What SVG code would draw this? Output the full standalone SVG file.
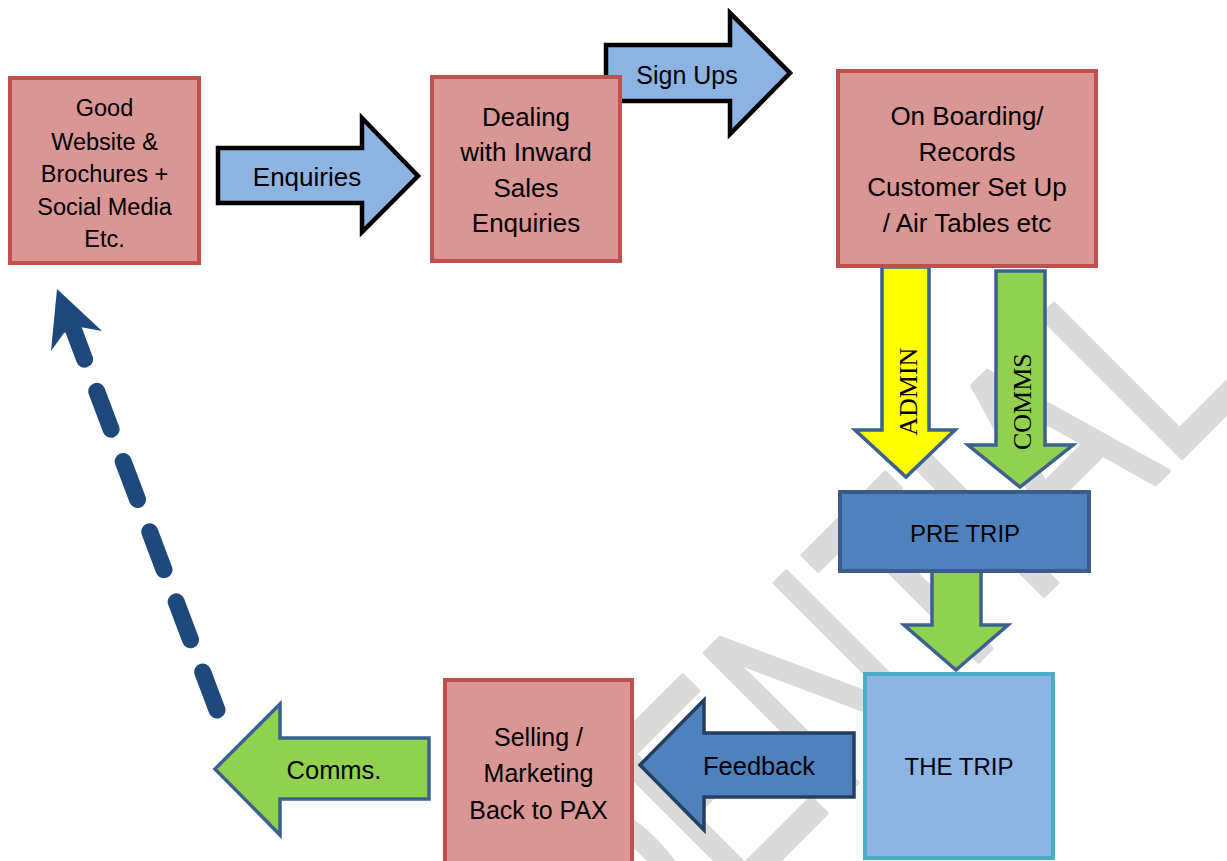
<svg xmlns="http://www.w3.org/2000/svg" width="1227" height="861" viewBox="0 0 1227 861">
<style>
  .t { font-family: "Liberation Sans", Arial, sans-serif; fill: #000; text-anchor: middle; }
  .ts { font-family: "Liberation Serif", "Times New Roman", serif; fill: #000; text-anchor: middle; font-size: 26px; }
  .red { fill: #d99694; stroke: #c0504d; stroke-width: 4; }
  .bluearrow { fill: #8db3e2; stroke: #000; stroke-width: 4.5; stroke-linejoin: miter; }
  .navyedge { stroke: #3b6190; stroke-width: 3.5; stroke-linejoin: miter; }
  .wm { font-family: "Liberation Sans", Arial, sans-serif; font-size: 290px; fill: #dadada; stroke: #dadada; stroke-width: 4; stroke-linejoin: round; }
</style>
<rect width="1227" height="861" fill="#fff"/>
<g id="watermark" transform="translate(169,1471) rotate(-45) scale(0.72,1)">
  <text class="wm" x="0" y="0">CONFIDENTIAL</text>
</g>
<g id="connectors">
  <g id="arrow-enquiries">
    <polygon class="bluearrow" points="218,148 362,148 362,118 418,176 362,232 362,203 218,203"/>
    <text class="t" x="307" y="186" font-size="26">Enquiries</text>
  </g>
  <g id="arrow-signups">
    <polygon class="bluearrow" points="606,45 730,45 730,13 790,73 730,134 730,101 606,101"/>
    <text class="t" x="687" y="84" font-size="25">Sign Ups</text>
  </g>
  <g id="arrow-admin">
    <polygon class="navyedge" fill="#ffff00" points="882,267 929,267 929,430 955,430 906,477 855,430 882,430"/>
    <text class="ts" transform="translate(907.5,391.7) rotate(-90)" x="0" y="9">ADMIN</text>
  </g>
  <g id="arrow-comms">
    <polygon class="navyedge" fill="#92d050" points="996,271 1045,271 1045,445 1073,445 1020,487 968,445 996,445"/>
    <text class="ts" transform="translate(1021.7,401.7) rotate(-90)" x="0" y="9">COMMS</text>
  </g>
  <g id="arrow-pretrip-trip">
    <polygon class="navyedge" fill="#92d050" points="932,570 981,570 981,625 1008,625 956,670 904,625 932,625"/>
  </g>
  <g id="arrow-feedback">
    <polygon fill="#4f81bd" stroke="#253f61" stroke-width="3.5" points="854,733 704,733 704,700 640,765 704,830 704,797 854,797"/>
    <text class="t" x="759" y="775" font-size="25.5">Feedback</text>
  </g>
  <g id="arrow-comms-back">
    <polygon class="navyedge" fill="#92d050" points="429,738 280,738 280,704 215,769 280,835 280,799 429,799"/>
    <text class="t" x="334" y="779" font-size="25.5">Comms.</text>
  </g>
  <g id="arrow-dashed-return">
    <line x1="217" y1="710" x2="72.3" y2="326.6" stroke="#1f497d" stroke-width="17" stroke-linecap="round" stroke-dasharray="40.6 34.4"/>
    <polygon fill="#1f497d" points="57,289 102,331 80,327 64,333 51,351"/>
  </g>
</g>
<g id="node-website">
  <rect class="red" x="10" y="78" width="189" height="185"/>
  <text class="t" font-size="23.5" x="104.5" y="116">Good</text>
  <text class="t" font-size="23.5" x="104.5" y="149.5">Website &amp;</text>
  <text class="t" font-size="23.5" x="104.5" y="181.5">Brochures +</text>
  <text class="t" font-size="23.5" x="104.5" y="214.5">Social Media</text>
  <text class="t" font-size="23.5" x="104.5" y="246.5">Etc.</text>
</g>
<g id="node-dealing">
  <rect class="red" x="432" y="77" width="188" height="184"/>
  <text class="t" font-size="26" x="526" y="126">Dealing</text>
  <text class="t" font-size="26" x="526" y="161">with Inward</text>
  <text class="t" font-size="26" x="526" y="197">Sales</text>
  <text class="t" font-size="26" x="526" y="232">Enquiries</text>
</g>
<g id="node-onboarding">
  <rect class="red" x="838" y="71" width="258" height="195"/>
  <text class="t" font-size="26" x="967" y="125">On Boarding/</text>
  <text class="t" font-size="26" x="967" y="161">Records</text>
  <text class="t" font-size="26" x="967" y="196">Customer Set Up</text>
  <text class="t" font-size="26" x="967" y="232">/ Air Tables etc</text>
</g>
<g id="node-pretrip">
  <rect x="840" y="492" width="249" height="79" fill="#4f81bd" stroke="#385d8a" stroke-width="4"/>
  <text class="t" font-size="24" x="965" y="542">PRE TRIP</text>
</g>
<g id="node-thetrip">
  <rect x="865" y="674" width="188" height="184" fill="#8eb4e3" stroke="#4bacc6" stroke-width="4"/>
  <text class="t" font-size="24" x="959" y="775">THE TRIP</text>
</g>
<g id="node-selling">
  <rect class="red" x="445" y="680" width="187" height="200"/>
  <text class="t" font-size="25" x="538.5" y="746">Selling /</text>
  <text class="t" font-size="25" x="538.5" y="782">Marketing</text>
  <text class="t" font-size="25" x="538.5" y="819">Back to PAX</text>
</g>
</svg>
